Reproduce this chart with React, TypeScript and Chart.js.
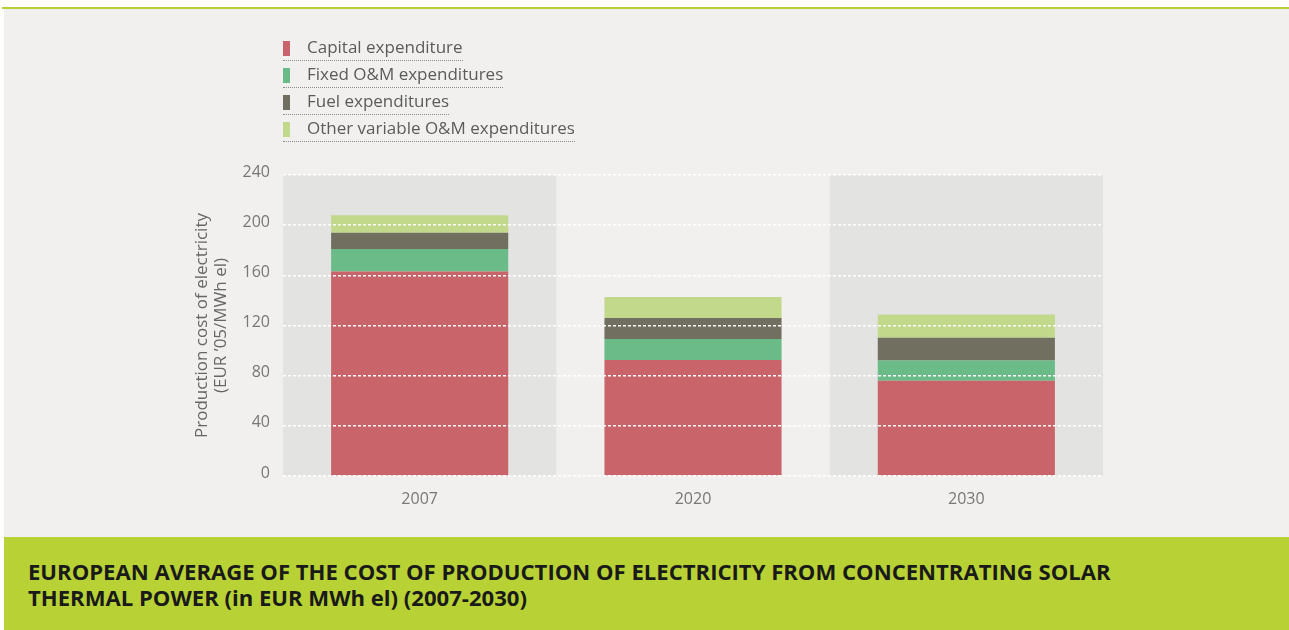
import React, { useEffect, useRef } from "react";
import { Chart, registerables } from "chart.js";

Chart.register(...registerables);

const categories = ["2007", "2020", "2030"];
const seriesLabels = [
  "Capital expenditure",
  "Fixed O&M expenditures",
  "Fuel expenditures",
  "Other variable O&M expenditures",
];
const capitalExp = [163, 92.5, 76];
const fixedOM = [18, 16.7, 16];
const fuelExp = [13, 16.8, 18.3];
const otherVarOM = [14, 16.7, 18.4];
const seriesColors = ["#c9656a", "#6abb87", "#716f60", "#c2d98b"];
const yTickValues = [0, 40, 80, 120, 160, 200, 240];
const yTitle = ["Production cost of electricity", "(EUR \u201905/MWh el)"];
const titleLines = [
  "EUROPEAN AVERAGE OF THE COST OF PRODUCTION OF ELECTRICITY FROM CONCENTRATING SOLAR",
  "THERMAL POWER (in EUR MWh el) (2007-2030)",
];

const FONT = '"Open Sans", "Noto Sans", sans-serif';

const bandPlugin = {
  id: "bands",
  beforeDatasetsDraw(chart: any) {
    const { ctx, chartArea, scales } = chart;
    const x = scales.x;
    const half = (x.getPixelForValue(1) - x.getPixelForValue(0)) / 2;
    ctx.save();
    ctx.fillStyle = "#e3e3e2";
    [0, 2].forEach((i) => {
      const c = x.getPixelForValue(i);
      ctx.fillRect(c - half, chartArea.top, half * 2, chartArea.bottom - chartArea.top);
    });
    ctx.restore();
  },
};

export default function App() {
  const ref = useRef<HTMLCanvasElement>(null);

  useEffect(() => {
    document.body.style.margin = "0";
    const allSeries = [capitalExp, fixedOM, fuelExp, otherVarOM];
    const chart = new Chart(ref.current as HTMLCanvasElement, {
      type: "bar",
      data: {
        labels: categories,
        datasets: allSeries.map((d, i) => ({
          label: seriesLabels[i],
          data: d,
          backgroundColor: seriesColors[i],
          borderWidth: 0,
          barPercentage: 0.648,
          categoryPercentage: 1,
        })),
      },
      options: {
        animation: false,
        responsive: false,
        maintainAspectRatio: false,
        layout: { padding: { left: 193, right: 186, top: 166, bottom: 21 } },
        plugins: { legend: { display: false }, tooltip: { enabled: false } },
        scales: {
          x: {
            stacked: true,
            grid: { display: false },
            border: { display: false },
            ticks: { color: "#777", font: { family: FONT, size: 16 }, padding: 6 },
            afterFit: (s: any) => {
              s.height = 40;
            },
          },
          y: {
            stacked: true,
            min: 0,
            max: 240,
            afterBuildTicks: (s: any) => {
              s.ticks = yTickValues.map((v) => ({ value: v }));
            },
            afterFit: (s: any) => {
              s.width = 90;
            },
            grid: { color: "#ffffff", lineWidth: 1.4, drawTicks: false, z: 1 },
            border: { display: false, dash: [3, 2] },
            ticks: {
              color: "#777",
              font: { family: FONT, size: 16 },
              padding: 13,
              labelOffset: -3,
            },
            title: {
              display: true,
              text: yTitle,
              color: "#666",
              font: { family: FONT, size: 17, lineHeight: 1.12 },
              padding: { top: 0, bottom: 0 },
            },
          },
        },
      },
      plugins: [bandPlugin],
    });
    return () => chart.destroy();
  }, []);

  return (
    <div style={{ position: "relative", width: 1289, height: 630, background: "#fff", fontFamily: FONT, overflow: "hidden" }}>
      <div style={{ position: "absolute", left: 2, right: 0, top: 7, height: 2, background: "#b5cf34" }} />
      <div style={{ position: "absolute", left: 4, right: 0, top: 9, height: 528, background: "#f1f0ee" }} />
      <canvas ref={ref} width={1289} height={528} style={{ position: "absolute", left: 0, top: 9, width: 1289, height: 528 }} />
      <div style={{ position: "absolute", left: 283, top: 34 }}>
        {seriesLabels.map((l, i) => (
          <div key={l} style={{ position: "relative", height: 25.6, borderBottom: "1px dotted #8a8a8a", display: "table", paddingLeft: 24, boxSizing: "border-box" }}>
            <div style={{ position: "absolute", left: 0, top: 7, width: 7, height: 15, background: seriesColors[i] }} />
            <span style={{ fontSize: 17, color: "#5b5b5b", lineHeight: "26px", whiteSpace: "nowrap" }}>{l}</span>
          </div>
        ))}
      </div>
      <div style={{ position: "absolute", left: 4, right: 0, top: 537, bottom: 0, background: "#b8d235" }}>
        <div style={{ position: "absolute", left: 24, top: 21, fontSize: 22.1, fontWeight: 700, lineHeight: "26px", color: "#1a1a1a", whiteSpace: "nowrap" }}>
          {titleLines.map((t) => (
            <div key={t}>{t}</div>
          ))}
        </div>
      </div>
    </div>
  );
}
